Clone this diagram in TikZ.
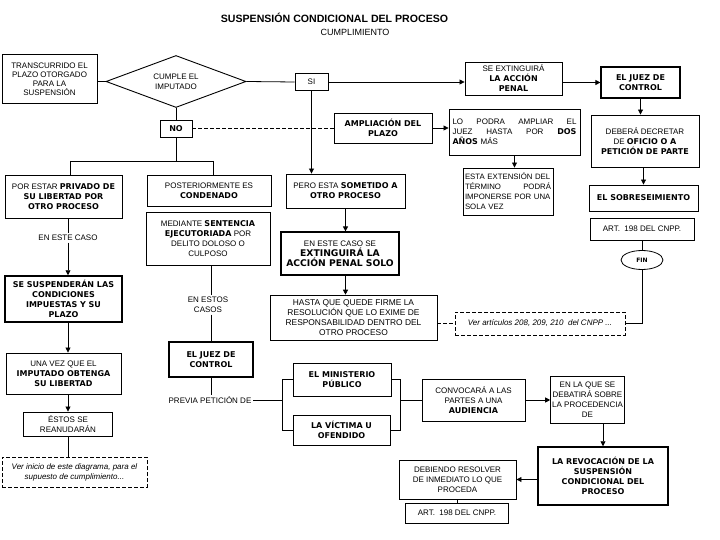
\documentclass[tikz,border=0pt]{standalone}
\usepackage{fontspec}
\setmainfont{Liberation Sans}
\newfontfamily\heavyfont{DejaVu Sans}
\newcommand\hvb[1]{{\heavyfont\bfseries #1}}
\newcommand\hvbig[1]{{\heavyfont\bfseries\fontsize{9.2}{11}\selectfont #1}}
\usetikzlibrary{shapes.geometric,arrows.meta}
\begin{document}
\begin{tikzpicture}[x=1pt,y=-1pt,
  every node/.style={font=\fontsize{8}{10}\selectfont, inner sep=1.5pt},
  box/.style={draw, line width=0.9pt, align=center},
  hbox/.style={box, line width=1.5pt},
  tbox/.style={draw, line width=0.6pt, align=center},
  dbox/.style={draw, line width=0.7pt, dash pattern=on 4pt off 2pt, align=center},
  ln/.style={line width=0.8pt},
  tln/.style={line width=0.6pt},
  dln/.style={line width=0.7pt, dash pattern=on 4pt off 2pt},
  arr/.style={ln, -{Triangle[length=5pt,width=5pt]}},
]
\useasboundingbox (0,0) rectangle (720,540);

% titles
\node[font=\bfseries\fontsize{10.6}{12}\selectfont] (title) at (334.5,18) {SUSPENSIÓN CONDICIONAL DEL PROCESO};
\node[font=\fontsize{9}{11}\selectfont] (sub) at (355,32) {CUMPLIMIENTO};

% top row
\node[box, minimum width=95pt, minimum height=49pt, font=\fontsize{8}{9}\selectfont] (trans) at (49.5,79) {TRANSCURRIDO EL\\PLAZO OTORGADO\\PARA LA\\SUSPENSIÓN};
\node[draw, diamond, line width=0.9pt, aspect=2.7, minimum width=140pt, minimum height=52pt, inner sep=0pt, align=center] (dia) at (176,81.5) {CUMPLE EL\\IMPUTADO};
\node[box, minimum width=33pt, minimum height=17pt] (si) at (311.5,82) {SI};
\node[box, minimum width=97pt, minimum height=33pt] (ext) at (513.5,78.5) {SE EXTINGUIRÁ\\\hvb{LA ACCIÓN}\\\hvb{PENAL}};
\node[box, line width=1.2pt, minimum width=79pt, minimum height=31pt] (juez1) at (640.5,82.5) {\hvb{EL JUEZ DE}\\\hvb{CONTROL}};
\node[box, minimum width=108pt, minimum height=52pt] (deb) at (645,141) {DEBERÁ DECRETAR\\DE \hvb{OFICIO O A}\\\hvb{PETICIÓN DE PARTE}};
\node[box, minimum width=109pt, minimum height=26pt] (sob) at (643.5,198) {\hvb{EL SOBRESEIMIENTO}};
\node[tbox, minimum width=104pt, minimum height=22pt] (art1) at (642,229) {ART.\ \ 198 DEL CNPP.};
\node[ellipse, draw, line width=0.8pt, minimum width=42pt, minimum height=19pt, inner sep=0pt] (fin) at (642,260) {\hvb{\fontsize{6}{7}\selectfont FIN}};
\node[dbox, minimum width=170pt, minimum height=23pt] (ver1) at (540,323.5) {\itshape Ver artículos 208, 209, 210\ \ del CNPP ...};

% middle
\node[box, minimum width=32pt, minimum height=17pt] (no) at (176,128.5) {\hvb{NO}};
\node[box, minimum width=98pt, minimum height=30pt] (ampl) at (383,128) {\hvb{AMPLIACIÓN DEL}\\\hvb{PLAZO}};
\node[box, minimum width=131pt, minimum height=46pt, text width=124pt, align=left] (lopod) at (514.5,132) {LO\hfill PODRA\hfill AMPLIAR\hfill EL\\JUEZ\hfill HASTA\hfill POR\hfill \hvb{DOS}\\\hvb{AÑOS} MÁS};
\node[box, minimum width=90pt, minimum height=47pt, text width=86pt, inner sep=1pt, align=left, font=\fontsize{7.8}{10}\selectfont] (estaext) at (508,191.5) {ESTA EXTENSIÓN DEL\\TÉRMINO\hfill PODRÁ\\IMPONERSE POR UNA\\SOLA VEZ};

\node[box, minimum width=117pt, minimum height=43pt] (pors) at (63.5,196.5) {POR ESTAR \hvb{PRIVADO DE}\\\hvb{SU LIBERTAD POR}\\\hvb{OTRO PROCESO}};
\node[box, minimum width=124pt, minimum height=31pt] (post) at (209,190.5) {POSTERIORMENTE ES\\\hvb{CONDENADO}};
\node[box, minimum width=124pt, minimum height=53pt] (med) at (208,238.5) {MEDIANTE \hvb{SENTENCIA}\\\hvb{EJECUTORIADA} POR\\DELITO DOLOSO O\\CULPOSO};
\node[box, minimum width=119pt, minimum height=34pt] (pero) at (345.5,191) {PERO ESTA \hvb{SOMETIDO A}\\\hvb{OTRO PROCESO}};
\node[box, line width=1.2pt, minimum width=118pt, minimum height=43pt] (enc) at (340,253.5) {EN ESTE CASO SE\\\hvbig{EXTINGUIRÁ LA}\\\hvbig{ACCIÓN PENAL SOLO}};
\node[tbox, minimum width=167pt, minimum height=45pt, font=\fontsize{8.4}{10}\selectfont] (hasta) at (353.5,317.5) {HASTA QUE QUEDE FIRME LA\\RESOLUCIÓN QUE LO EXIME DE\\RESPONSABILIDAD DENTRO DEL\\OTRO PROCESO};

% left column
\node (encaso) at (68,238) {EN ESTE CASO};
\node[hbox, minimum width=117pt, minimum height=46pt] (susp) at (63.5,299) {\hvb{SE SUSPENDERÁN LAS}\\\hvb{CONDICIONES}\\\hvb{IMPUESTAS Y SU}\\\hvb{PLAZO}};
\node[box, minimum width=115pt, minimum height=41pt] (unavez) at (63.5,373.5) {UNA VEZ QUE EL\\\hvb{IMPUTADO OBTENGA}\\\hvb{SU LIBERTAD}};
\node[box, minimum width=89pt, minimum height=24pt] (estos) at (68,424) {ÉSTOS SE\\REANUDARÁN};
\node[dbox, minimum width=145pt, minimum height=30pt] (verini) at (74.5,472) {\itshape Ver inicio de este diagrama, para el\\\itshape supuesto de cumplimiento...};

% lower middle
\node[align=center] (encasos) at (208,305) {EN ESTOS\\CASOS};
\node[hbox, minimum width=84pt, minimum height=35pt] (juez2) at (211,359.5) {\hvb{EL JUEZ DE}\\\hvb{CONTROL}};
\node (previa) at (210,400) {PREVIA PETICIÓN DE};
\node[box, minimum width=98pt, minimum height=33pt] (minis) at (342,379.5) {\hvb{EL MINISTERIO}\\\hvb{PÚBLICO}};
\node[box, minimum width=97pt, minimum height=30pt] (victima) at (341.5,430) {\hvb{LA VÍCTIMA U}\\\hvb{OFENDIDO}};
\node[box, minimum width=103pt, minimum height=42pt] (convoca) at (473.5,400) {CONVOCARÁ A LAS\\PARTES A UNA\\\hvb{AUDIENCIA}};
\node[box, minimum width=71pt, minimum height=47pt] (enlaque) at (587.5,399.5) {EN LA QUE SE\\DEBATIRÁ SOBRE\\LA PROCEDENCIA\\DE};
\node[hbox, minimum width=130pt, minimum height=58pt] (revoc) at (603,476) {\hvb{LA REVOCACIÓN DE LA}\\\hvb{SUSPENSIÓN}\\\hvb{CONDICIONAL DEL}\\\hvb{PROCESO}};
\node[box, minimum width=117pt, minimum height=39pt] (debiendo) at (457.5,479.5) {DEBIENDO RESOLVER\\DE INMEDIATO LO QUE\\PROCEDA};
\node[tbox, minimum width=103pt, minimum height=20pt] (art2) at (457,513) {ART.\ \ 198 DEL CNPP.};

% connectors top
\draw[ln] (trans.east |- dia.west) -- (dia.west);
\draw[ln] (dia.east) -- (si.west);
\draw[arr] (si.east) -- (si.east -| ext.west);
\draw[arr] (ext.east |- juez1.west) -- (juez1.west);
\draw[arr] (juez1.south) -- (juez1.south |- deb.north);
\draw[arr] (deb.south -| sob.north) -- (sob.north);
\draw[tln] (art1.south -| fin.north) -- (fin.north);
\draw[tln] (fin.south) -- (fin.south |- ver1.east) -- (ver1.east);

% connectors middle
\draw[ln] (dia.south) -- (no.north);
\draw[dln] (no.east) -- (no.east -| ampl.west);
\draw[arr] (ampl.east) -- (ampl.east -| lopod.west);
\draw[arr] (lopod.south) -- (lopod.south |- estaext.north);
\draw[arr] (si.south) -- (si.south |- pero.north);
\draw[arr] (pero.south) -- (pero.south |- enc.north);
\draw[arr] (enc.south -| pero.south) -- (hasta.north -| pero.south);
\draw[dln] (hasta.east |- ver1.west) -- (ver1.west);

% NO branches
\coordinate (nl) at (70,161);
\coordinate (nr) at (213,161);
\draw[tln] (no.south) -- (no.south |- nl);
\draw[tln] (nl) -- (nr);
\draw[tln] (nl) -- (nl |- pors.north);
\draw[tln] (nr) -- (nr |- post.north);

% left column connectors
\draw[tln] (pors.south -| encaso.north) -- (encaso.north);
\draw[arr] (encaso.south) -- (encaso.south |- susp.north);
\draw[arr] (susp.south -| encaso.south) -- (unavez.north -| encaso.south);
\draw[arr] (unavez.south -| estos.north) -- (estos.north);
\draw[tln] (estos.south) -- (estos.south |- verini.north);

% lower middle connectors
\draw[ln] (med.south -| juez2.north) -- (juez2.north |- encasos.north);
\draw[ln] (juez2.north |- encasos.south) -- (juez2.north);
\draw[ln] (juez2.south) -- (juez2.south |- previa.north);
\draw[tln] (minis.west) -- ++(-10,0) coordinate (lbt) |- (victima.west);
\draw[tln] (previa.east) -- (previa.east -| lbt);
\draw[tln] (minis.east) -- ++(9,0) coordinate (rbt) |- (victima.east);
\draw[tln] (rbt |- convoca.west) -- (convoca.west);
\draw[arr] (convoca.east) -- (convoca.east -| enlaque.west);
\draw[arr] (enlaque.south -| revoc.north) -- (revoc.north);
\draw[arr] (revoc.west |- debiendo.east) -- (debiendo.east);
\draw[tln] (debiendo.south) -- (debiendo.south |- art2.north);
\end{tikzpicture}
\end{document}
